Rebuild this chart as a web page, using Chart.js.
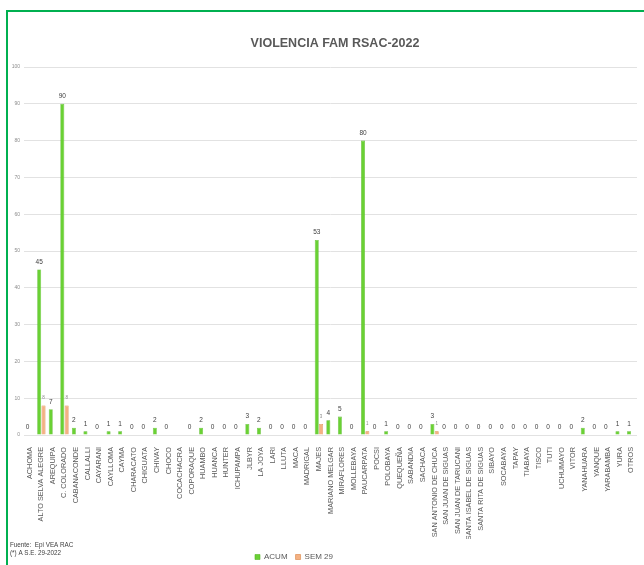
<!DOCTYPE html>
<html>
<head>
<meta charset="utf-8">
<script src="https://cdn.jsdelivr.net/npm/chart.js@4"></script>
<style>
  html, body { margin: 0; padding: 0; background: #fff; }
  #wrap { position: relative; width: 644px; height: 565px; overflow: hidden; }
  #frame { position: absolute; left: 6px; top: 10px; width: 700px; height: 600px;
           border-left: 2px solid #00b050; border-top: 2px solid #00b050; }
  #chart { position: absolute; left: 0; top: 0; }
</style>
</head>
<body>
<div id="wrap">
  <div id="frame"></div>
  <canvas id="chart" width="644" height="565"></canvas>
</div>
<script>
// categories (distritos)
const districts = [
  'ACHOMA', 'ALTO SELVA ALEGRE', 'AREQUIPA', 'C. COLORADO', 'CABANACONDE', 'CALLALLI',
  'CAYARANI', 'CAYLLOMA', 'CAYMA', 'CHARACATO', 'CHIGUATA', 'CHIVAY', 'CHOCO',
  'COCACHACRA', 'COPORAQUE', 'HUAMBO', 'HUANCA', 'HUNTER', 'ICHUPAMPA', 'JLBYR',
  'LA JOYA', 'LARI', 'LLUTA', 'MACA', 'MADRIGAL', 'MAJES', 'MARIANO MELGAR',
  'MIRAFLORES', 'MOLLEBAYA', 'PAUCARPATA', 'POCSI', 'POLOBAYA', 'QUEQUEÑA',
  'SABANDIA', 'SACHACA', 'SAN ANTONIO DE CHUCA', 'SAN JUAN DE SIGUAS',
  'SAN JUAN DE TARUCANI', 'SANTA ISABEL DE SIGUAS', 'SANTA RITA DE SIGUAS',
  'SIBAYO', 'SOCABAYA', 'TAPAY', 'TIABAYA', 'TISCO', 'TUTI', 'UCHUMAYO', 'VITOR',
  'YANAHUARA', 'YANQUE', 'YARABAMBA', 'YURA', 'OTROS'
];

// acumulado 2022
const acum = [
  0, 45, 7, 90, 2, 1,
  0, 1, 1, 0, 0, 2, 0,
  null, 0, 2, 0, 0, 0, 3,
  2, 0, 0, 0, 0, 53, 4,
  5, 0, 80, 0, 1, 0,
  0, 0, 3, 0,
  0, 0, 0,
  0, 0, 0, 0, 0, 0, 0, 0,
  2, 0, 0, 1, 1
];

// semana 29
const sem29 = [
  null, 8, null, 8, null, null,
  null, null, null, null, null, null, null,
  null, null, null, null, null, null, null,
  null, null, null, null, null, 3, null,
  null, null, 1, null, null, null,
  null, null, 1, null,
  null, null, null,
  null, null, null, null, null, null, null, null,
  null, null, null, null, null
];

const yTicks = { min: 0, max: 100, step: 10 };

const GREEN = '#6ad134';
const ORANGE = '#f4b183';
const TXT = '#595959';

// etiquetas de valor sobre las barras
const valueLabels = {
  id: 'valueLabels',
  afterDatasetsDraw(chart) {
    const ctx = chart.ctx;
    ctx.save();
    ctx.textAlign = 'center';
    ctx.textBaseline = 'middle';
    chart.data.datasets.forEach((ds, di) => {
      const meta = chart.getDatasetMeta(di);
      meta.data.forEach((bar, i) => {
        const v = ds.data[i];
        if (v === null || v === undefined) return;
        if (di === 0) {
          ctx.font = '6.5px "Liberation Sans", Arial, sans-serif';
          ctx.fillStyle = '#404040';
        } else {
          ctx.font = '4.5px "Liberation Sans", Arial, sans-serif';
          ctx.fillStyle = '#8c8c8c';
        }
        ctx.fillText(String(v), bar.x, bar.y - 7.5);
      });
    });
    ctx.restore();
  }
};

// fuente + ajuste de posiciones de titulo y leyenda
const extras = {
  id: 'extras',
  afterLayout(chart) {
    const t = chart.titleBlock;
    if (t) { t.left += 15; t.right += 15; }
    const lg = chart.legend;
    if (lg) {
      const dy = 545 - lg.top;
      lg.top += dy; lg.bottom += dy;
      lg.left -= 26; lg.right -= 26;
    }
  },
  afterDraw(chart) {
    const ctx = chart.ctx;
    ctx.save();
    ctx.font = '6.3px "Liberation Sans", Arial, sans-serif';
    ctx.fillStyle = '#404040';
    ctx.textAlign = 'left';
    ctx.textBaseline = 'middle';
    ctx.fillText('Fuente:  Epi VEA RAC', 10, 545.5);
    ctx.fillText('(*) A S.E. 29-2022', 10, 553);
    ctx.restore();
  }
};

new Chart(document.getElementById('chart'), {
  type: 'bar',
  data: {
    labels: districts,
    datasets: [
      { label: 'ACUM', data: acum, backgroundColor: GREEN, borderColor: '#56b526', borderWidth: 0.6,
        categoryPercentage: 0.75, barPercentage: 0.92 },
      { label: 'SEM 29', data: sem29, backgroundColor: ORANGE, borderColor: '#d9823f', borderWidth: 0.6,
        categoryPercentage: 0.75, barPercentage: 0.92 }
    ]
  },
  options: {
    responsive: false,
    animation: false,
    layout: { padding: { left: 0, right: 4, top: 0, bottom: 0 } },
    plugins: {
      title: {
        display: true,
        text: 'VIOLENCIA FAM RSAC-2022',
        color: TXT,
        font: { family: '"Liberation Sans", Arial, sans-serif', size: 12.5, weight: 'bold', lineHeight: 1.2 },
        padding: { top: 36.5, bottom: 15.5 }
      },
      legend: {
        position: 'bottom',
        labels: {
          boxWidth: 5, boxHeight: 5, padding: 8, color: TXT,
          font: { family: '"Liberation Sans", Arial, sans-serif', size: 8 }
        }
      },
      tooltip: { enabled: false }
    },
    scales: {
      x: {
        grid: { display: false },
        border: { display: false },
        ticks: {
          color: TXT, autoSkip: false, minRotation: 90, maxRotation: 90, padding: 4,
          font: { family: '"Liberation Sans", Arial, sans-serif', size: 7.3 }
        },
        afterFit(scale) { scale.height = 104; }
      },
      y: {
        min: yTicks.min, max: yTicks.max,
        grid: { color: '#e2e2e2', lineWidth: 1, drawTicks: false },
        border: { display: false },
        ticks: {
          stepSize: yTicks.step, color: '#8c8c8c', padding: 4,
          font: { family: '"Liberation Sans", Arial, sans-serif', size: 5 }
        },
        afterFit(scale) { scale.width = 24; }
      }
    }
  },
  plugins: [valueLabels, extras]
});
</script>
</body>
</html>
